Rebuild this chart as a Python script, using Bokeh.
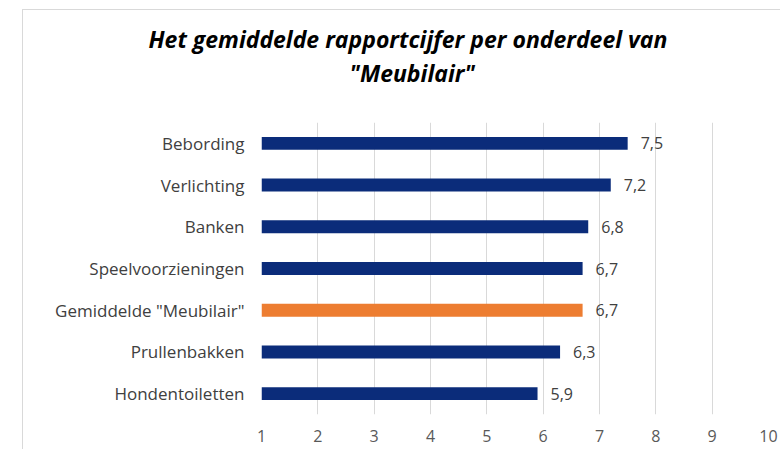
from bokeh.plotting import figure
from bokeh.models import FactorRange, Range1d, FixedTicker, Title, ColumnDataSource
from bokeh.core.properties import value
from bokeh.embed import file_html
from bokeh.resources import INLINE

# ---- data ----
categories = ["Bebording", "Verlichting", "Banken", "Speelvoorzieningen",
              'Gemiddelde "Meubilair"', "Prullenbakken", "Hondentoiletten"]
scores = [7.5, 7.2, 6.8, 6.7, 6.7, 6.3, 5.9]
highlight_category = 'Gemiddelde "Meubilair"'
x_ticks = [1, 2, 3, 4, 5, 6, 7, 8, 9, 10]
title_lines = ["Het gemiddelde rapportcijfer per onderdeel van", '"Meubilair"']

BLUE = "#0b2c7a"
ORANGE = "#ed7d31"
FONT = "Open Sans"

colors = [ORANGE if c == highlight_category else BLUE for c in categories]
labels = [f"{v:.1f}".replace(".", ",") for v in scores]
src = ColumnDataSource(dict(cat=categories, score=scores,
                            start=[x_ticks[0]] * len(scores),
                            color=colors, label=labels))

p = figure(width=758, height=440, output_backend="svg", toolbar_location=None,
           y_range=FactorRange(factors=list(reversed(categories))),
           x_range=Range1d(x_ticks[0], x_ticks[-1]),
           min_border_left=238, min_border_right=13,
           min_border_top=112, min_border_bottom=36,
           margin=(9, 0, 0, 22))
p.styles = {"border-left": "1px solid #d9d9d9", "border-top": "1px solid #d9d9d9"}
p.outline_line_color = None
p.background_fill_color = "white"
p.border_fill_color = "white"

p.hbar(y="cat", left="start", right="score", height=0.31, color="color",
       line_color=None, source=src)
p.text(x="score", y="cat", text="label", source=src, x_offset=13,
       text_baseline="middle", text_align="left", text_font=value(FONT),
       text_font_size="16px", text_color="#404040")

p.xaxis.ticker = FixedTicker(ticks=x_ticks)
p.xgrid.ticker = FixedTicker(ticks=x_ticks)
p.xgrid.grid_line_color = "#d9d9d9"
p.ygrid.grid_line_color = None
for ax in (p.xaxis, p.yaxis):
    ax.axis_line_color = None
    ax.major_tick_line_color = None
    ax.minor_tick_line_color = None
    ax.major_tick_out = 0
    ax.major_tick_in = 0
    ax.major_label_text_font = FONT
    ax.major_label_text_font_size = "16px"
p.yaxis.major_label_text_font_size = "17px"
p.xaxis.major_label_standoff = 15
p.yaxis.major_label_standoff = 17
p.xaxis.major_label_text_color = "#595959"
p.yaxis.major_label_text_color = "#404040"

# blank title panel next to the frame, used only as vertical spacing under the title
p.add_layout(Title(text=" ", standoff=0, text_font=FONT,
                   text_font_size="23px"), "above")

# Two title lines (inner line added first); offsets are from the frame's left edge
title_offsets = [-113, 88]
for i in (1, 0):
    p.add_layout(Title(text=title_lines[i], align="left", offset=title_offsets[i],
                       standoff=0,
                       text_font=FONT, text_font_style="bold italic",
                       text_font_size="23px", text_color="#000000"), "above")

open("out.html", "w").write(file_html(p, INLINE))
